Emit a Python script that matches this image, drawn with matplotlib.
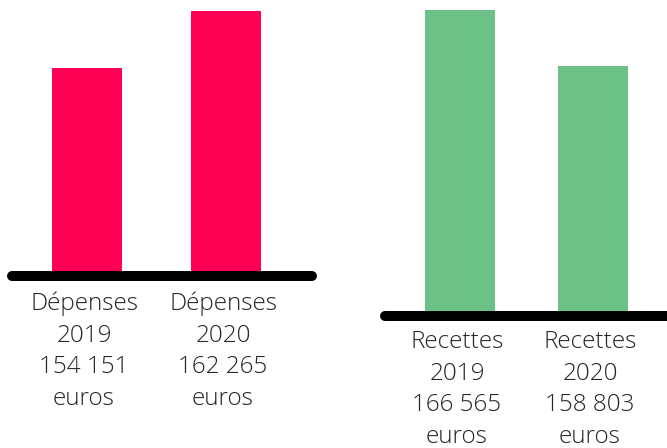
import matplotlib.pyplot as plt
import numpy as np

DEP_LABELS = ["Dépenses", "Dépenses"]
DEP_YEARS = ["2019", "2020"]
DEP_VALUES = [154151, 162265]
DEP_TEXT = ["154 151", "162 265"]

REC_LABELS = ["Recettes", "Recettes"]
REC_YEARS = ["2019", "2020"]
REC_VALUES = [166565, 158803]
REC_TEXT = ["166 565", "158 803"]

RED = "#ff0055"
GREEN = "#6bc186"
TEXT = "#262626"

W, H = 667, 448
fig = plt.figure(figsize=(W / 100, H / 100), dpi=100)


def panel(rect_px, xlim, ylim, width, values, color, labels, years, amounts, first_off):
    x0, ytop, w, h = rect_px
    ax = fig.add_axes([x0 / W, (H - ytop - h) / H, w / W, h / H])
    ax.set_xlim(*xlim)
    ax.set_ylim(*ylim)
    ax.axis("off")
    pos = np.arange(len(values))
    ax.bar(pos, values, width=width, color=color)
    ax.plot([0, 1], [0, 0], transform=ax.transAxes, color="black",
            lw=7.2, solid_capstyle="round", clip_on=False)
    for i, p in enumerate(pos):
        lines = [labels[i], years[i], amounts[i], "euros"]
        for j, s in enumerate(lines):
            ax.annotate(s, xy=(p, 0), xycoords=("data", "axes fraction"),
                        xytext=(-3, -(first_off + 31.7 * j)), textcoords="offset pixels",
                        ha="center", va="baseline", fontsize=17.5,
                        family="Open Sans", fontweight="light", color=TEXT,
                        annotation_clip=False)
    return ax


panel((12, 0, 300, 275.7), (-0.5396, 1.6187), (124600, 163846), 0.5036,
      DEP_VALUES, RED, DEP_LABELS, DEP_YEARS, DEP_TEXT, 34.3)
panel((385, 0, 295, 315.7), (-0.5639, 1.6541), (124200, 167956), 0.5263,
      REC_VALUES, GREEN, REC_LABELS, REC_YEARS, REC_TEXT, 32.3)

fig.savefig("out.png", dpi=100)
